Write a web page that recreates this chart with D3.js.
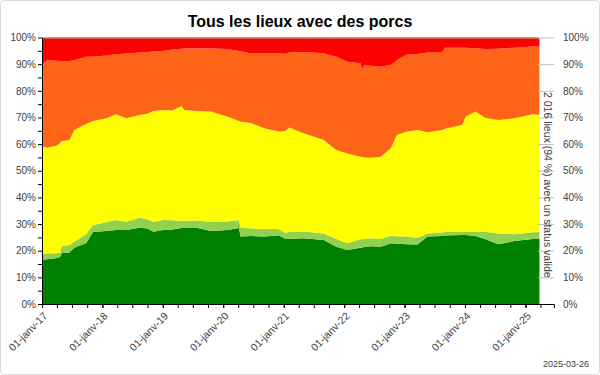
<!DOCTYPE html>
<html>
<head>
<meta charset="utf-8">
<script src="https://cdnjs.cloudflare.com/ajax/libs/d3/7.8.5/d3.min.js"></script>
<style>
  body { margin: 0; background: #fff; }
  text { font-family: "Liberation Sans", Arial, sans-serif; fill: #404040; }
</style>
</head>
<body>
<div id="chart-area"></div>
<script>
// status shares (%) per date
const dates = ["2017-01-01","2017-02-01","2017-04-01","2017-04-20","2017-05-01","2017-06-15","2017-07-15","2017-09-25","2017-11-05",
  "2018-01-25","2018-03-25","2018-05-25","2018-08-15","2018-10-01","2018-11-05","2019-01-01","2019-03-01","2019-04-25","2019-05-10",
  "2019-07-30","2019-10-20","2020-01-30","2020-04-05","2020-04-15","2020-06-20","2020-09-10","2020-11-30","2021-01-10","2021-02-05",
  "2021-05-01","2021-08-30","2021-11-15","2022-01-20","2022-04-10","2022-04-20","2022-05-01","2022-06-10","2022-08-10","2022-10-10",
  "2022-11-15","2023-01-10","2023-03-20","2023-05-20","2023-08-15","2023-09-01","2023-12-15","2024-01-05","2024-03-05","2024-05-01",
  "2024-07-20","2024-10-25","2025-02-15","2025-03-26"]
const darkGreen = [16.5,16.8,17.3,17.6,19.1,19.3,21.1,22.9,27.0,27.4,27.8,27.8,28.6,28.3,27.1,27.8,28.0,28.5,28.5,28.5,27.4,27.8,28.5,25.3,
  25.5,25.3,25.8,24.4,24.4,24.7,24.0,21.5,20.3,21.1,21.0,21.5,21.7,21.5,22.8,22.6,22.4,22.3,25.3,25.5,25.7,25.9,25.9,25.5,24.4,22.4,23.6,24.4,24.6]
const lightGreen = [2.3,2.2,1.7,1.6,2.8,2.7,2.3,3.4,2.6,3.3,3.7,3.1,3.8,3.5,3.7,3.7,3.4,2.6,2.7,2.8,3.4,3.2,3.0,3.3,
  2.8,2.8,2.3,2.2,2.7,2.5,2.5,2.9,2.5,3.3,3.2,2.9,3.0,2.9,2.7,2.8,2.9,2.6,1.2,1.3,1.3,1.2,1.2,1.6,2.7,4.1,2.6,2.5,2.4]
const yellow = [40.5,39.6,40.5,41.2,39.3,39.5,41.9,41.2,39.1,39.0,39.7,38.8,38.5,39.7,41.6,41.3,41.2,43.3,41.6,41.1,41.4,39.3,37.2,39.9,
  39.5,37.8,36.6,38.3,39.1,36.9,35.0,33.4,33.7,30.9,31.0,30.6,30.2,30.9,32.9,38.0,39.3,40.4,37.9,38.5,38.8,40.1,43.2,45.1,42.8,42.5,43.5,44.3,44.0]
const orange = [30.6,32.9,31.8,30.8,29.8,29.7,26.2,25.3,24.1,23.5,22.5,24.3,23.5,23.1,22.3,22.1,22.9,21.4,23.1,23.5,23.7,25.4,26.2,26.3,
  26.2,28.1,29.3,29.0,28.2,30.5,32.6,35.0,34.4,35.0,32.6,34.5,34.5,33.7,31.3,28.1,28.9,28.5,30.0,29.1,30.4,29.0,25.9,23.8,25.8,26.8,26.5,25.4,25.6]
const red = [9.7,8.1,8.3,8.4,8.6,8.4,8.1,6.8,6.8,6.4,5.9,5.6,5.2,5.0,4.9,4.7,4.1,3.8,3.7,3.7,3.7,3.9,4.7,4.8,
  5.6,5.6,5.6,5.7,5.2,5.0,5.5,6.8,8.7,9.3,11.8,10.1,10.2,10.6,9.9,8.1,6.1,5.8,5.2,5.2,3.4,3.4,3.4,3.6,3.9,3.8,3.4,3.0,3.0]
const brown = dates.map(() => 0.4)

const keys = ["darkGreen", "lightGreen", "yellow", "orange", "red", "brown"]
const colors = ["#008000", "#92d050", "#ffff00", "#fd6418", "#ff0000", "#9c3c0c"]
const yTicks = [0, 10, 20, 30, 40, 50, 60, 70, 80, 90, 100]

const W = 600, H = 375
const plotLeft = 42, plotRight = 554, plotTop = 37.5, plotBottom = 304

const svg = d3.select("#chart-area").append("svg")
    .attr("width", W)
    .attr("height", H)

// chart border
svg.append("rect")
    .attr("x", 0.5).attr("y", 0.5)
    .attr("width", W - 1).attr("height", H - 1)
    .attr("rx", 3)
    .attr("fill", "#fff")
    .attr("stroke", "#d9d9d9")

const parse = d3.timeParse("%Y-%m-%d")
const table = dates.map((d, i) => ({
    date: parse(d),
    darkGreen: darkGreen[i], lightGreen: lightGreen[i], yellow: yellow[i],
    orange: orange[i], red: red[i], brown: brown[i]
}))

const x = d3.scaleTime()
    .domain([new Date(2017, 0, 1), new Date(2025, 5, 22)])
    .range([plotLeft, plotRight])

const y = d3.scaleLinear()
    .domain([0, 100])
    .range([plotBottom, plotTop])

const stacked = d3.stack().keys(keys)(table)

const area = d3.area()
    .x(d => x(d.data.date))
    .y0(d => y(d[0]))
    .y1(d => y(d[1]))

svg.selectAll("path.layer")
    .data(stacked)
    .enter()
    .append("path")
    .attr("class", "layer")
    .attr("d", area)
    .attr("fill", (d, i) => colors[i])

// Title
svg.append("text")
    .attr("x", 300)
    .attr("y", 27)
    .attr("text-anchor", "middle")
    .attr("font-size", "16px")
    .attr("font-weight", "bold")
    .style("fill", "#000")
    .text("Tous les lieux avec des porcs")

// Left axis
const yAxisCall = d3.axisLeft(y)
    .tickValues(yTicks)
    .tickFormat(d => d + "%")
    .tickSize(4)
    .tickSizeOuter(0)

const yAxis = svg.append("g")
    .attr("transform", `translate(${plotLeft}, 0)`)
    .call(yAxisCall)
yAxis.select(".domain").attr("stroke", "#000")
yAxis.selectAll(".tick line").attr("stroke", "#000")
yAxis.selectAll("text").attr("font-size", "10px").attr("x", -6)

svg.append("g")
    .attr("transform", `translate(${plotLeft}, 0)`)
    .call(d3.axisLeft(y).tickValues(d3.range(5, 100, 10)).tickFormat("").tickSize(4).tickSizeOuter(0))
    .call(g => g.select(".domain").remove())
    .selectAll(".tick line").attr("stroke", "#000")

// Right axis
const rAxis = svg.append("g")
    .attr("transform", `translate(${plotRight}, 0)`)
    .call(d3.axisRight(y).tickValues(yTicks).tickFormat(d => d + "%").tickSize(0).tickPadding(9))
rAxis.select(".domain").remove()
rAxis.selectAll("text").attr("font-size", "10px")
rAxis.selectAll(".tick").append("line")
    .attr("x1", -16).attr("x2", 0)
    .attr("stroke", "#bfbfbf")

svg.append("text")
    .attr("transform", `translate(548, ${(plotTop + plotBottom) / 2 + 14}) rotate(90)`)
    .attr("text-anchor", "middle")
    .attr("dy", "0.35em")
    .attr("font-size", "10.5px")
    .text("2 016 lieux (94 %) avec un status valide")

// X axis
const xAxisCall = d3.axisBottom(x)
    .ticks(d3.timeYear.every(1))
    .tickFormat(d => "01-janv-" + d3.timeFormat("%y")(d))
    .tickSize(4)
    .tickSizeOuter(4)

const xAxis = svg.append("g")
    .attr("transform", `translate(0, ${plotBottom})`)
    .call(xAxisCall)
xAxis.select(".domain").attr("stroke", "#000")
xAxis.selectAll(".tick line").attr("stroke", "#000")
xAxis.selectAll("text")
    .attr("font-size", "10.5px")
    .attr("text-anchor", "end")
    .attr("x", 0)
    .attr("y", 0)
    .attr("dy", "0.35em")
    .attr("transform", "translate(3, 10) rotate(-45)")

svg.append("g")
    .attr("transform", `translate(0, ${plotBottom})`)
    .call(d3.axisBottom(x).ticks(d3.timeMonth.every(3)).tickFormat("").tickSize(4).tickSizeOuter(0))
    .call(g => g.select(".domain").remove())
    .selectAll(".tick line").attr("stroke", "#000")

// date stamp
svg.append("text")
    .attr("x", 589)
    .attr("y", 367)
    .attr("text-anchor", "end")
    .attr("font-size", "9px")
    .text("2025-03-26")
</script>
</body>
</html>
